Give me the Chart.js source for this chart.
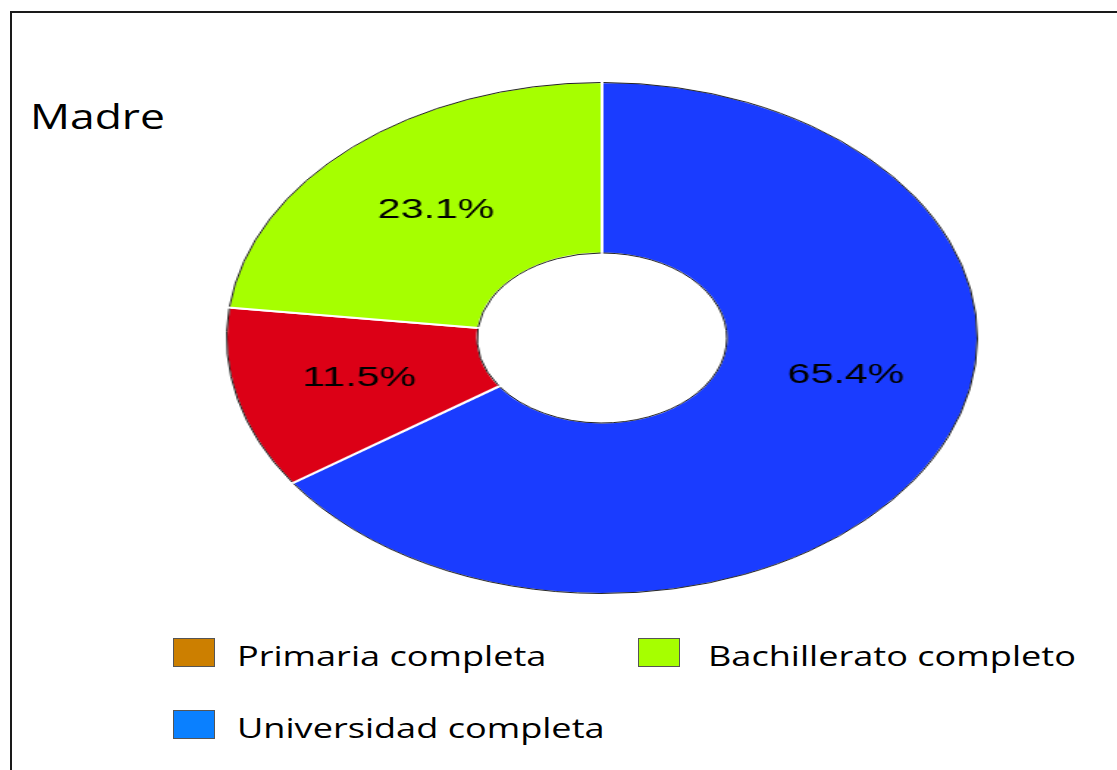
<!DOCTYPE html>
<html>
<head>
<meta charset="utf-8">
<script src="https://cdn.jsdelivr.net/npm/chart.js@4"></script>
<style>
  body { margin: 0; background: #fff; width: 1117px; height: 770px; overflow: hidden; position: relative; }
  #frame { position: absolute; left: 10px; top: 11px; right: -10px; bottom: -10px; border-left: 2px solid #1a1a1a; border-top: 2px solid #1a1a1a; }
  #title { position: absolute; left: 30px; top: 92px; font-family: "Open Sans", sans-serif; font-size: 35px; color: #000; transform: scaleX(1.27); transform-origin: left top; white-space: nowrap; }
  #pie { position: absolute; left: 345px; top: 81px; transform: scaleX(1.469); transform-origin: 257px 257px; }
  .leg { position: absolute; font-family: "Open Sans", sans-serif; font-size: 28px; color: #000; white-space: nowrap; }
  .leg .box { position: absolute; width: 40px; height: 27px; border: 1px solid #555; }
  .leg .txt { position: absolute; transform: scaleX(1.29); transform-origin: left top; }
</style>
</head>
<body>
<div id="frame"></div>
<div id="title">Madre</div>
<canvas id="pie" width="514" height="514"></canvas>
<div id="legend"></div>
<script>
// slices clockwise from 12 o'clock
const categories = ['Universidad completa', '', 'Bachillerato completo', 'Primaria completa'];
const values = [65.4, 11.5, 23.1, 0];
const sliceColors = ['#1a3cff', '#dc0016', '#a6ff00', '#cc7f00'];

const legendLabels = ['Primaria completa', 'Bachillerato completo', 'Universidad completa'];
const legendColors = ['#cc7f00', '#a6ff00', '#0a80ff'];

// legend, two columns
const legendSpots = [[173, 638], [638, 638], [173, 710]];
const legendDiv = document.getElementById('legend');
legendLabels.forEach((lab, i) => {
  const d = document.createElement('div');
  d.className = 'leg';
  d.style.left = legendSpots[i][0] + 'px';
  d.style.top = legendSpots[i][1] + 'px';
  d.innerHTML = '<div class="box" style="left:0;top:0;background:' + legendColors[i] + '"></div>' +
    '<div class="txt" style="left:' + (i == 1 ? 70 : 64) + 'px;top:-2px">' + lab + '</div>';
  legendDiv.appendChild(d);
});

const ringLabels = {
  id: 'ringLabels',
  afterDatasetsDraw(chart, args, opts) {
    const ctx = chart.ctx;
    const meta = chart.getDatasetMeta(0);
    ctx.save();
    // thin dark rim on inner and outer edges
    ctx.strokeStyle = '#222';
    ctx.lineWidth = 1;
    meta.data.forEach(arc => {
      const p = arc.getProps(['x', 'y', 'startAngle', 'endAngle', 'innerRadius', 'outerRadius']);
      if (p.endAngle - p.startAngle <= 0) return;
      ctx.beginPath();
      ctx.arc(p.x, p.y, p.outerRadius - 0.5, p.startAngle + 0.004, p.endAngle - 0.004);
      ctx.stroke();
      ctx.beginPath();
      ctx.arc(p.x, p.y, p.innerRadius + 0.5, p.startAngle + 0.01, p.endAngle - 0.01);
      ctx.stroke();
    });
    ctx.font = '28px "Liberation Sans", Arial, sans-serif';
    ctx.fillStyle = '#000';
    ctx.textAlign = 'center';
    ctx.textBaseline = 'middle';
    meta.data.forEach((arc, i) => {
      if (!values[i]) return;
      const p = arc.getProps(['x', 'y', 'startAngle', 'endAngle', 'innerRadius', 'outerRadius']);
      const a = (p.startAngle + p.endAngle) / 2 + (opts.shift[i] || 0) * Math.PI / 180;
      const r = (p.innerRadius + p.outerRadius) / 2;
      ctx.fillText(values[i].toFixed(1) + '%', p.x + Math.cos(a) * r, p.y + Math.sin(a) * r);
    });
    ctx.restore();
  }
};

new Chart(document.getElementById('pie'), {
  type: 'doughnut',
  data: {
    labels: categories,
    datasets: [{
      data: values,
      backgroundColor: sliceColors,
      borderColor: '#ffffff',
      borderWidth: 2
    }]
  },
  options: {
    responsive: false,
    animation: false,
    cutout: '33%',
    layout: { padding: 0 },
    plugins: {
      legend: { display: false },
      tooltip: { enabled: false },
      ringLabels: { shift: [-15, 0, 0, 0] }
    }
  },
  plugins: [ringLabels]
});
</script>
</body>
</html>
